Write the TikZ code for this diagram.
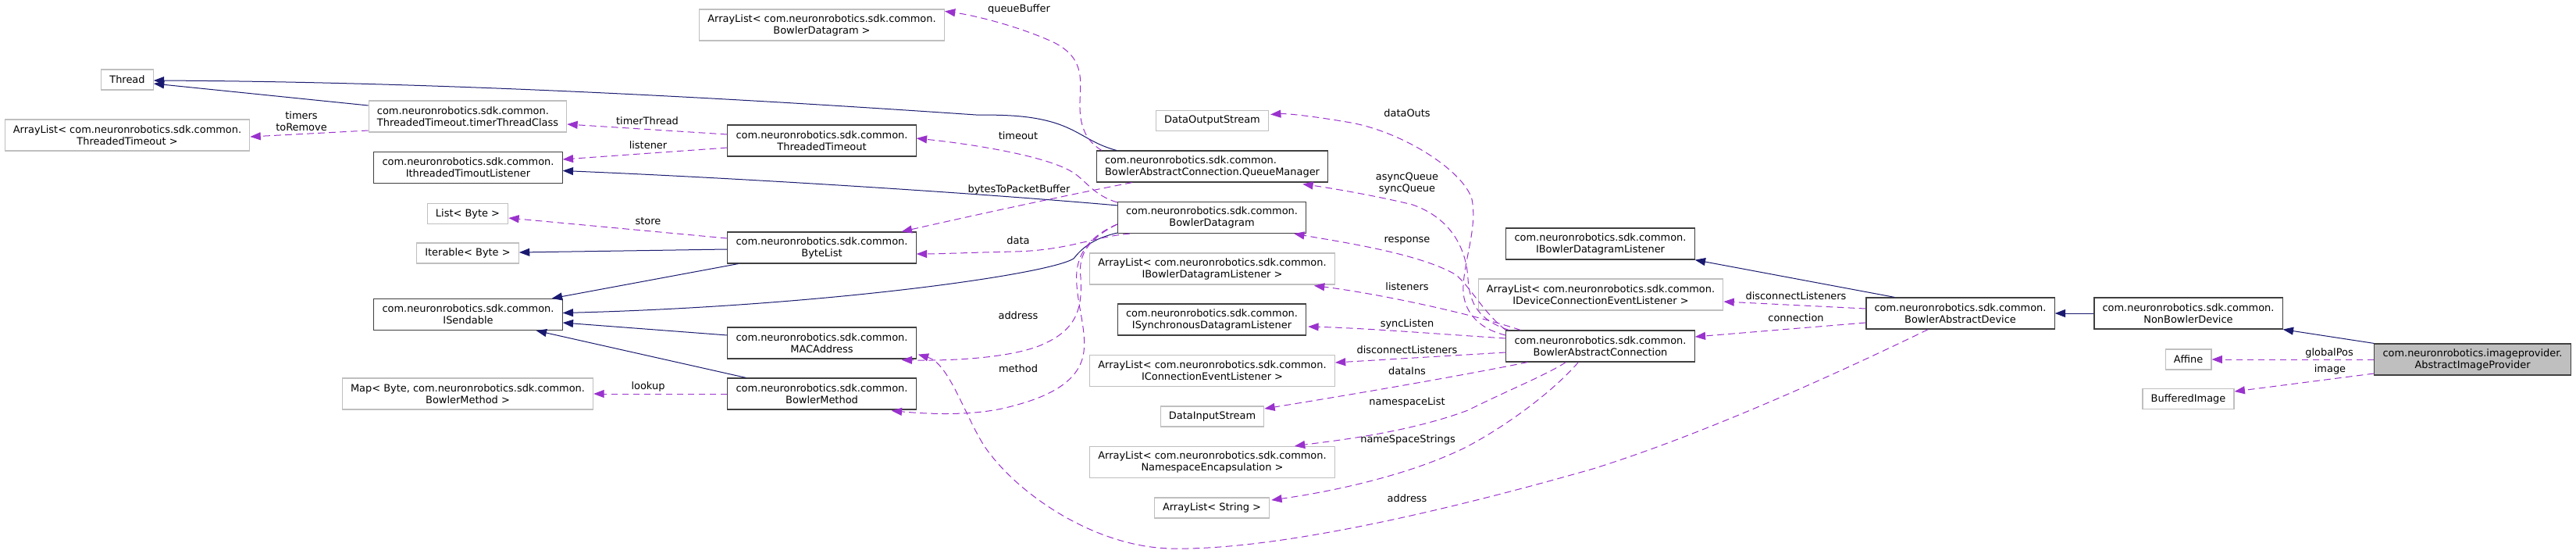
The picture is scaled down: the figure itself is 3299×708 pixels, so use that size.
\documentclass[tikz,border=0pt]{standalone}
\usepackage{fontspec}
\usepackage{tikz}
\usetikzlibrary{arrows.meta,calc}
\newfontfamily\dgsans{DejaVu Sans}
\definecolor{inhblue}{RGB}{25,25,112}
\definecolor{refpurple}{RGB}{154,50,205}
\definecolor{boxgray}{RGB}{191,191,191}
\definecolor{boxdark}{RGB}{64,64,64}
\tikzset{
  dgfont/.style={font=\dgsans\fontsize{9.7}{11.25}\selectfont},
  cls/.style={dgfont, draw=boxdark, line width=0.9pt, fill=white, align=center,
    inner xsep=8pt, inner ysep=0pt, minimum height=30pt},
  ext/.style={cls, draw=boxgray},
  one/.style={minimum height=19.5pt},
  cur/.style={cls, fill=boxgray},
  inh/.style={draw=inhblue, line width=0.75pt, -{Triangle[length=10pt,width=7.5pt]}},
  ref/.style={draw=refpurple, line width=0.75pt, dash pattern=on 6.5pt off 4pt,
    -{Triangle[length=10pt,width=7.5pt]}},
  lbl/.style={dgfont, align=center, inner sep=0pt}
}
\begin{document}
\begin{tikzpicture}[x=0.75pt,y=-0.75pt]
  \useasboundingbox (0,0) rectangle (3299,708);
  \node[ext,one] (thread) at (163,102) {Thread};
  \node[ext] (altt) at (163,173) {ArrayList< com.neuronrobotics.sdk.common.\\ThreadedTimeout >};
  \node[ext,align=left] (ttc) at (599,149) {com.neuronrobotics.sdk.common.\\ThreadedTimeout.timerThreadClass};
  \node[cls] (itl) at (599.5,214.5) {com.neuronrobotics.sdk.common.\\IthreadedTimoutListener};
  \node[ext,one] (listbyte) at (599,273.5) {List< Byte >};
  \node[ext,one] (iterbyte) at (599,324) {Iterable< Byte >};
  \node[cls] (isend) at (599.5,402.5) {com.neuronrobotics.sdk.common.\\ISendable};
  \node[ext] (mapbm) at (599,504) {Map< Byte, com.neuronrobotics.sdk.common.\\BowlerMethod >};

  \node[ext] (albd) at (1052.5,32) {ArrayList< com.neuronrobotics.sdk.common.\\BowlerDatagram >};
  \node[cls] (tto) at (1052.5,180) {com.neuronrobotics.sdk.common.\\ThreadedTimeout};
  \node[cls] (bytelist) at (1052.5,317) {com.neuronrobotics.sdk.common.\\ByteList};
  \node[cls] (mac) at (1052.5,439) {com.neuronrobotics.sdk.common.\\MACAddress};
  \node[cls] (bmethod) at (1052.5,504) {com.neuronrobotics.sdk.common.\\BowlerMethod};

  \node[ext,one] (dos) at (1552.5,154.5) {DataOutputStream};
  \node[cls,align=left] (qm) at (1552.5,213) {com.neuronrobotics.sdk.common.\\BowlerAbstractConnection.QueueManager};
  \node[cls] (bdg) at (1552,278.5) {com.neuronrobotics.sdk.common.\\BowlerDatagram};
  \node[ext] (albdl) at (1552.5,344) {ArrayList< com.neuronrobotics.sdk.common.\\IBowlerDatagramListener >};
  \node[cls] (isdl) at (1552,409) {com.neuronrobotics.sdk.common.\\ISynchronousDatagramListener};
  \node[ext] (alcel) at (1552.5,474.5) {ArrayList< com.neuronrobotics.sdk.common.\\IConnectionEventListener >};
  \node[ext,one] (dis) at (1552.5,533) {DataInputStream};
  \node[ext] (alns) at (1552.5,591.5) {ArrayList< com.neuronrobotics.sdk.common.\\NamespaceEncapsulation >};
  \node[ext,one] (als) at (1552,650) {ArrayList< String >};

  \node[cls] (ibdl) at (2049.5,312) {com.neuronrobotics.sdk.common.\\IBowlerDatagramListener};
  \node[ext] (aldcel) at (2050,377) {ArrayList< com.neuronrobotics.sdk.common.\\IDeviceConnectionEventListener >};
  \node[cls] (bac) at (2049.5,443) {com.neuronrobotics.sdk.common.\\BowlerAbstractConnection};
  \node[cls] (bad) at (2510.5,401) {com.neuronrobotics.sdk.common.\\BowlerAbstractDevice};
  \node[cls] (nbd) at (2802.5,401) {com.neuronrobotics.sdk.common.\\NonBowlerDevice};
  \node[ext,one] (affine) at (2802.5,460) {Affine};
  \node[ext,one] (bimg) at (2802.5,510.5) {BufferedImage};
  \node[cur] (aip) at (3166.5,460) {com.neuronrobotics.imageprovider.\\AbstractImageProvider};

  \draw[inh] ($(ttc.west)+(0,-14)$) -- ($(thread.east)+(0,5)$);
  \draw[inh] ($(qm.north west)+(26,0)$) .. controls (1395,183) and (1385,168) .. (1350,157)
    .. controls (1320,148) and (1290,147) .. (1250,147)
    .. controls (1000,130) and (600,105) .. ($(thread.east)+(0,1)$);
  \draw[inh] ($(bdg.north west)+(0,5)$) .. controls (1250,247) and (950,228) .. ($(itl.east)+(0,4)$);
  \draw[inh] ($(bytelist.west)+(0,2)$) -- ($(iterbyte.east)+(0,-1)$);
  \draw[inh] ($(bytelist.south west)+(14,0)$) -- ($(isend.north east)+(-14,0)$);
  \draw[inh] ($(bdg.south west)+(0,-1)$) .. controls (1400,305) and (1385,318) .. (1375,331)
    .. controls (1340,352) and (1050,392) .. ($(isend.east)+(0,-2)$);
  \draw[inh] ($(mac.west)+(0,-10)$) -- ($(isend.east)+(0,10.5)$);
  \draw[inh] ($(bmethod.north west)+(24,0)$) -- ($(isend.south east)+(-34,0)$);
  \draw[inh] ($(bad.north west)+(37,0)$) -- (ibdl.south east);
  \draw[inh] (nbd.west) -- (bad.east);
  \draw[inh] (aip.north west) -- (nbd.south east);

  \draw[ref] ($(ttc.west)+(0,18)$) -- ($(altt.east)+(0,2)$);
  \draw[ref] ($(tto.west)+(0,-8)$) -- ($(ttc.east)+(0,10)$);
  \draw[ref] ($(tto.west)+(0,9)$) -- ($(itl.east)+(0,-10.5)$);
  \draw[ref] ($(bytelist.west)+(0,-12)$) -- ($(listbyte.east)+(0,5.5)$);
  \draw[ref] (bmethod.west) -- (mapbm.east);
  \draw[ref] ($(qm.north west)+(7,0)$) .. controls (1390,180) and (1382,160) .. (1383,130)
    .. controls (1384,100) and (1390,70) .. (1340,50)
    .. controls (1300,33) and (1250,20) .. ($(albd.north east)+(0,3)$);
  \draw[ref] ($(bdg.north west)+(0,1)$) .. controls (1400,250) and (1390,230) .. (1373,220)
    .. controls (1340,200) and (1250,185) .. ($(tto.east)+(0,-3)$);
  \draw[ref] ($(qm.south west)+(46,0)$) .. controls (1350,253) and (1250,275) .. ($(bytelist.north east)+(-19,0)$);
  \draw[ref] ($(bdg.south west)+(16,0)$) .. controls (1400,303) and (1370,320) .. (1300,322)
    .. controls (1250,323) and (1200,325) .. ($(bytelist.east)+(0,8)$);
  \draw[ref] ($(bdg.west)+(0,8.5)$) .. controls (1395,305) and (1380,325) .. (1384,355)
    .. controls (1387,400) and (1375,425) .. (1330,443)
    .. controls (1290,458) and (1220,462) .. ($(mac.south east)+(-19,1)$);
  \draw[ref] ($(bdg.west)+(0,8.5)$) .. controls (1400,300) and (1382,320) .. (1379,347)
    .. controls (1376,380) and (1392,420) .. (1388,450)
    .. controls (1383,490) and (1340,510) .. (1283,523)
    .. controls (1240,532) and (1190,530) .. ($(bmethod.south east)+(-32,1)$);
  \draw[ref] ($(bad.south west)+(80,0)$) .. controls (2390,460) and (2200,550) .. (2040,600)
    .. controls (1900,640) and (1650,705) .. (1500,702)
    .. controls (1400,700) and (1300,630) .. (1260,570)
    .. controls (1235,530) and (1215,465) .. ($(mac.south east)+(2,-6)$);

  \draw[ref] (bac.north west) .. controls (1900,400) and (1885,370) .. (1865,352)
    .. controls (1820,325) and (1720,310) .. ($(bdg.south east)+(-16,0)$);
  \draw[ref] ($(bac.north west)+(4,0)$) .. controls (1895,410) and (1882,390) .. (1880,357)
    .. controls (1878,320) and (1860,280) .. (1809,262)
    .. controls (1760,250) and (1700,240) .. ($(qm.south east)+(-33,2)$);
  \draw[ref] ($(bac.west)+(0,-14)$) .. controls (1890,420) and (1872,395) .. (1874,365)
    .. controls (1876,330) and (1892,290) .. (1885,255)
    .. controls (1875,220) and (1800,170) .. (1730,157)
    .. controls (1690,150) and (1650,145) .. ($(dos.east)+(2,-8)$);
  \draw[ref] ($(bac.north west)+(19,0)$) .. controls (1880,400) and (1760,375) .. ($(albdl.south east)+(-27,1)$);
  \draw[ref] ($(bac.west)+(0,-10)$) .. controls (1850,428) and (1750,420) .. ($(isdl.east)+(2,9)$);
  \draw[ref] ($(bac.west)+(0,8)$) -- ($(alcel.east)+(0,-10.5)$);
  \draw[ref] ($(bac.south west)+(28,0)$) .. controls (1850,485) and (1700,510) .. ($(dis.east)+(0,-10)$);
  \draw[ref] ($(bac.south west)+(77,0)$) .. controls (1980,480) and (1930,500) .. (1880,525)
    .. controls (1800,555) and (1700,565) .. ($(alns.north east)+(-52,0)$);
  \draw[ref] ($(bac.south west)+(93,0)$) .. controls (1990,500) and (1930,545) .. (1876,573)
    .. controls (1800,610) and (1700,630) .. ($(als.east)+(2,-10)$);

  \draw[ref] ($(bad.west)+(0,-6)$) -- ($(aldcel.east)+(0,9)$);
  \draw[ref] ($(bad.west)+(0,12)$) -- ($(bac.east)+(0,-12)$);
  \draw[ref] (aip.west |- affine.east) -- (affine.east);
  \draw[ref] ($(aip.west)+(0,18)$) -- ($(bimg.east)+(0,-9.5)$);

  \node[lbl] (ltimers) at (386,155) {timers\\toRemove};
  \node[lbl] (ltimerthread) at (829,155) {timerThread};
  \node[lbl] (llistener) at (830,186) {listener};
  \node[lbl] (lstore) at (830,283) {store};
  \node[lbl] (llookup) at (830,495) {lookup};
  \node[lbl] (lqueuebuffer) at (1305,12) {queueBuffer};
  \node[lbl] (ltimeout) at (1304,174) {timeout};
  \node[lbl] (lbytes) at (1305,243) {bytesToPacketBuffer};
  \node[lbl] (ldata) at (1304,308) {data};
  \node[lbl] (laddress) at (1304,404) {address};
  \node[lbl] (lmethod) at (1304,472) {method};
  \node[lbl] (ldataouts) at (1802,145) {dataOuts};
  \node[lbl] (lqueues) at (1802,235) {asyncQueue\\syncQueue};
  \node[lbl] (lresponse) at (1802,308) {response};
  \node[lbl] (llisteners) at (1802,367) {listeners};
  \node[lbl] (lsynclisten) at (1802,415) {syncListen};
  \node[lbl] (ldisconn) at (1802,448) {disconnectListeners};
  \node[lbl] (ldatains) at (1802,475) {dataIns};
  \node[lbl] (lnslist) at (1802,515) {namespaceList};
  \node[lbl] (lnsstrings) at (1803,563) {nameSpaceStrings};
  \node[lbl] (ldevaddress) at (1802,638) {address};
  \node[lbl] (ldevdisconn) at (2300,379) {disconnectListeners};
  \node[lbl] (lconnection) at (2300,407) {connection};
  \node[lbl] (lglobalpos) at (2983,452) {globalPos};
  \node[lbl] (limage) at (2984,473) {image};
\end{tikzpicture}
\end{document}
